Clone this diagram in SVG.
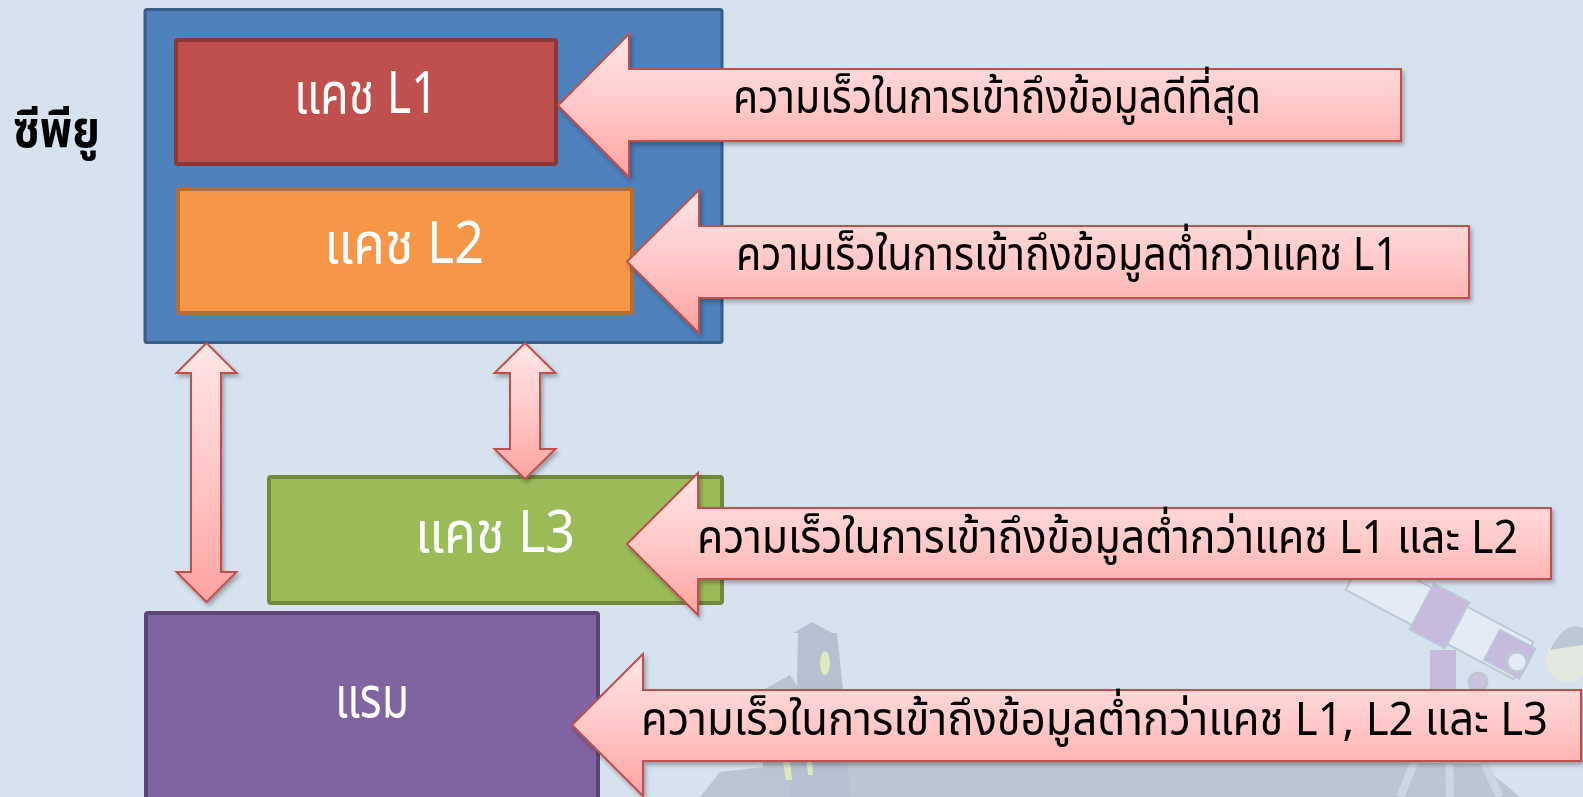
<svg xmlns="http://www.w3.org/2000/svg" width="1583" height="797" viewBox="0 0 1583 797">
  <defs>
    <linearGradient id="pinkFill" x1="0" y1="0" x2="0" y2="1">
      <stop offset="0" stop-color="#FFE6E6"/>
      <stop offset="0.5" stop-color="#FFC9C8"/>
      <stop offset="1" stop-color="#FFA3A1"/>
    </linearGradient>
    <filter id="softShadow" x="-5%" y="-10%" width="115%" height="130%">
      <feDropShadow dx="2" dy="3" stdDeviation="2" flood-color="#000" flood-opacity="0.3"/>
    </filter>
    <style>
      .bg { fill: #D6E2EE; }
      .box { stroke-width: 4; }
      .cpu { fill: #4F81BD; stroke: #385D8A; stroke-width: 3; }
      .l1 { fill: #C0504D; stroke: #8C3836; }
      .l2 { fill: #F79646; stroke: #B66D31; }
      .l3 { fill: #9BBB59; stroke: #71893F; }
      .ram { fill: #8064A2; stroke: #5C4776; }
      .arrow { fill: url(#pinkFill); stroke: #C0504D; stroke-width: 2; stroke-linejoin: miter; filter: url(#softShadow); }
      .boxLabel { font-family: "Noto Sans Thai", "Noto Sans", "DejaVu Sans", sans-serif; font-size: 58px; fill: #FFFFFF; }
      .note { font-family: "Noto Sans Thai", "Noto Sans", "DejaVu Sans", sans-serif; font-size: 46px; fill: #000000; }
      .side { font-family: "Noto Sans Thai", "Noto Sans", "DejaVu Sans", sans-serif; font-size: 52px; font-weight: bold; fill: #000000; }
    </style>
  </defs>

  <!-- page background -->
  <rect class="bg" x="0" y="0" width="1583" height="797"/>

  <!-- faded backdrop scenery: house, hill and telescope -->
  <g id="backdrop" opacity="0.45">
    <path d="M700,797 L720,772 L790,764 L900,760 L1100,757 L1300,760 L1480,764 L1520,797 Z" fill="#9AA3B5"/>
    <path d="M763,690 L790,675 L800,690 L800,797 L763,797 Z" fill="#98A2B4"/>
    <path d="M812,622 L832,633 L837,633 L843,690 L850,797 L790,797 L797,690 L798,633 L793,633 Z" fill="#8E98AB"/>
    <ellipse cx="825" cy="663" rx="5" ry="12" fill="#E8F08A"/>
    <path d="M780,745 L786,780 L792,780 L788,745 Z" fill="#E8F08A"/>
    <path d="M805,745 L808,775 L813,775 L811,745 Z" fill="#E8F08A"/>
    <g transform="rotate(28 1440 615)">
      <rect x="1345" y="595" width="190" height="42" fill="#F4F6FA" stroke="#9FA8B8" stroke-width="2"/>
      <rect x="1420" y="590" width="40" height="52" fill="#B58CC8" stroke="#9FA8B8" stroke-width="2"/>
      <rect x="1500" y="600" width="40" height="34" fill="#B58CC8" stroke="#9FA8B8" stroke-width="2"/>
    </g>
    <circle cx="1517" cy="662" r="10" fill="#F4F6FA" stroke="#9FA8B8" stroke-width="3"/>
    <circle cx="1478" cy="682" r="9" fill="#C49AD2" stroke="#9FA8B8" stroke-width="3"/>
    <rect x="1430" y="650" width="26" height="50" fill="#B58CC8"/>
    <path d="M1440,700 L1400,797 M1448,700 L1450,797 M1455,700 L1500,797" stroke="#C2C8D3" stroke-width="8" fill="none"/>
    <circle cx="1568" cy="660" r="22" fill="#F4F1D0"/>
    <path d="M1550,650 Q1565,620 1583,628 L1583,645 Z" fill="#9FA8B8"/>
  </g>

  <!-- side caption -->
  <text class="side" x="13" y="147" textLength="87" lengthAdjust="spacingAndGlyphs">ซีพียู</text>

  <!-- CPU package with on-chip caches -->
  <g id="cpu">
    <rect class="cpu" x="145" y="9.5" width="577" height="333" rx="2"/>
  </g>
  <g id="cache-l1">
    <rect class="box l1" x="176" y="40" width="380" height="124" rx="2"/>
    <text class="boxLabel" x="294" y="113" textLength="144" lengthAdjust="spacingAndGlyphs">แคช L1</text>
  </g>
  <g id="cache-l2">
    <rect class="box l2" x="178" y="189" width="454" height="124" rx="2"/>
    <text class="boxLabel" x="324" y="263" textLength="160" lengthAdjust="spacingAndGlyphs">แคช L2</text>
  </g>
  <g id="cache-l3">
    <rect class="box l3" x="269" y="477" width="453" height="126" rx="2"/>
    <text class="boxLabel" x="415" y="552" textLength="160" lengthAdjust="spacingAndGlyphs">แคช L3</text>
  </g>
  <g id="ram">
    <rect class="box ram" x="146" y="613" width="452" height="190" rx="2"/>
    <text class="boxLabel" x="335" y="717" textLength="74" lengthAdjust="spacingAndGlyphs">แรม</text>
  </g>

  <!-- data paths and speed callouts -->
  <g id="connectors">
    <path class="arrow" d="M206.5,343 L236.5,373 L221,373 L221,572 L236.5,572 L206.5,602 L176.5,572 L191,572 L191,373 L176.5,373 Z"/>
    <path class="arrow" d="M525,343 L555.5,373 L540,373 L540,449 L555.5,449 L525,479 L494.5,449 L510,449 L510,373 L494.5,373 Z"/>

    <g id="callout-l1">
      <path class="arrow" d="M558,105.5 L629,34 L629,69 L1401,69 L1401,141 L629,141 L629,177 Z"/>
      <text class="note" x="733" y="113" textLength="528" lengthAdjust="spacingAndGlyphs">ความเร็วในการเข้าถึงข้อมูลดีที่สุด</text>
    </g>
    <g id="callout-l2">
      <path class="arrow" d="M627,261.5 L699,190 L699,226 L1469,226 L1469,298 L699,298 L699,333 Z"/>
      <text class="note" x="736" y="270" textLength="662" lengthAdjust="spacingAndGlyphs">ความเร็วในการเข้าถึงข้อมูลต่ำกว่าแคช L1</text>
    </g>
    <g id="callout-l3">
      <path class="arrow" d="M627,544 L698,473 L698,508 L1551,508 L1551,579 L698,579 L698,615 Z"/>
      <text class="note" x="697" y="553" textLength="821" lengthAdjust="spacingAndGlyphs">ความเร็วในการเข้าถึงข้อมูลต่ำกว่าแคช L1 และ L2</text>
    </g>
    <g id="callout-ram">
      <path class="arrow" d="M572,725 L643,654 L643,690 L1581,690 L1581,761 L643,761 L643,796 Z"/>
      <text class="note" x="641" y="735" textLength="907" lengthAdjust="spacingAndGlyphs">ความเร็วในการเข้าถึงข้อมูลต่ำกว่าแคช L1, L2 และ L3</text>
    </g>
  </g>
</svg>
